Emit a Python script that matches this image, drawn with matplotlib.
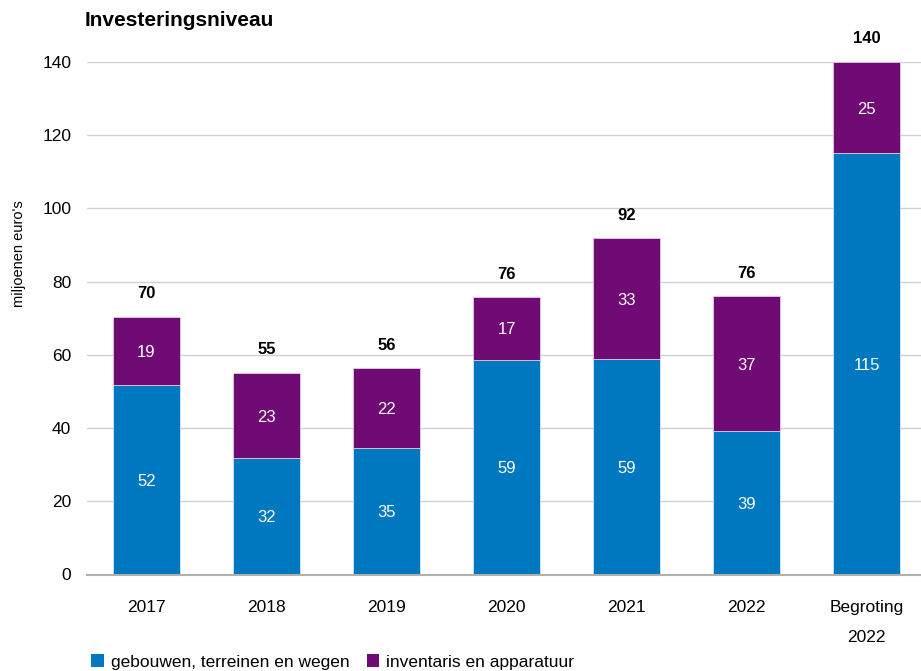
import matplotlib.pyplot as plt
from matplotlib.patches import Patch

plt.rcParams["font.family"] = ["Liberation Sans", "DejaVu Sans"]

# Gegevens (miljoenen euro's)
categories = ["2017", "2018", "2019", "2020", "2021", "2022", "Begroting\n2022"]
gebouwen = [51.7, 31.7, 34.6, 58.7, 58.8, 39.1, 115.1]
inventaris = [18.6, 23.4, 21.7, 17.0, 33.0, 36.9, 24.9]
series_names = ["gebouwen, terreinen en wegen", "inventaris en apparatuur"]
y_ticks = [0, 20, 40, 60, 80, 100, 120, 140]

BLUE = "#0078c0"
PURPLE = "#700a74"


def main() -> None:
    fig = plt.figure(figsize=(9.21, 6.71), dpi=100)
    ax = fig.add_axes((86.5 / 921, 1 - 574.5 / 671, 840 / 921, (574.5 - 62) / 671))

    x = list(range(len(categories)))
    totals = [g + i for g, i in zip(gebouwen, inventaris)]

    bars_g = ax.bar(x, gebouwen, width=0.56, color=BLUE, edgecolor="#e8f0f8",
                    linewidth=0.5, zorder=3)
    bars_i = ax.bar(x, inventaris, bottom=gebouwen, width=0.56, color=PURPLE,
                    edgecolor="#eadcec", linewidth=0.5, zorder=3)

    # Witte labels midden in elk segment
    for bars in (bars_g, bars_i):
        for rect in bars:
            h = rect.get_height()
            ax.text(rect.get_x() + rect.get_width() / 2, rect.get_y() + h / 2,
                    f"{h:.0f}", ha="center", va="center_baseline", color="white",
                    fontsize=12, zorder=4)

    # Totalen boven de staven
    for xi, t in zip(x, totals):
        ax.annotate(f"{t:.0f}", (xi, t), xytext=(0, 13.5), textcoords="offset points",
                    ha="center", va="baseline", fontsize=12, fontweight="bold",
                    color="black", annotation_clip=False)

    ax.set_xlim(-0.5, len(categories) - 0.5)
    ax.set_ylim(0, 140)
    ax.set_yticks(y_ticks)
    ax.set_xticks(x)
    ax.set_xticklabels([])

    # Categorielabels zelf tekenen, met ruimere regelafstand
    for xi, cat in zip(x, categories):
        ax.annotate(cat, (xi, 0), xycoords=("data", "axes fraction"),
                    xytext=(0, -18.5), textcoords="offset points",
                    ha="center", va="top", fontsize=12.5, linespacing=2.2,
                    annotation_clip=False)

    ax.tick_params(axis="both", length=0, labelsize=12.5, colors="black")
    ax.tick_params(axis="y", pad=11)

    ax.grid(axis="y", color="#d0d0d0", linewidth=1.0, zorder=0)
    ax.set_axisbelow(True)
    for side in ("top", "right", "left"):
        ax.spines[side].set_visible(False)
    ax.spines["bottom"].set_color("#b0b0b0")
    ax.spines["bottom"].set_linewidth(1.5)
    ax.spines["bottom"].set_zorder(5)

    fig.text(85 / 921, 1 - 20 / 671, "Investeringsniveau", fontsize=15,
             fontweight="bold", va="center", ha="left")
    fig.text(19 / 921, 1 - 254 / 671, "miljoenen euro's", fontsize=10.5,
             rotation=90, va="center", ha="center")

    handles = [Patch(facecolor=BLUE, edgecolor="none"),
               Patch(facecolor=PURPLE, edgecolor="none")]
    fig.legend(handles, series_names, loc="lower left",
               bbox_to_anchor=(88 / 921, -0.003), ncol=2, frameon=False,
               fontsize=12.5, handlelength=0.72, handleheight=0.72,
               handletextpad=0.4, columnspacing=1.0, borderpad=0.2,
               borderaxespad=0.0)

    fig.savefig("out.png", dpi=100)


if __name__ == "__main__":
    main()
